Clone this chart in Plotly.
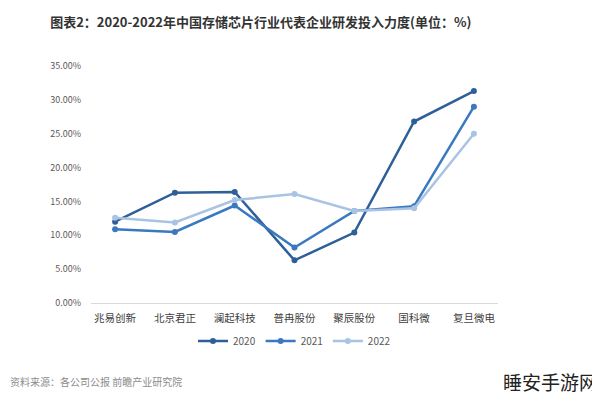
import plotly.graph_objects as go

categories = ["兆易创新", "北京君正", "澜起科技", "普冉股份", "聚辰股份", "国科微", "复旦微电"]
s2020 = [12.0, 16.3, 16.4, 6.3, 10.4, 26.8, 31.3]
s2021 = [10.9, 10.5, 14.4, 8.2, 13.6, 14.3, 29.0]
s2022 = [12.6, 11.9, 15.2, 16.1, 13.6, 14.0, 25.0]
years = ["2020", "2021", "2022"]
colors = ["#2F5F98", "#3A78C0", "#A9C3E3"]
y_ticks = [0, 5, 10, 15, 20, 25, 30, 35]

fig = go.Figure()
for name, vals, c in zip(years, [s2020, s2021, s2022], colors):
    fig.add_trace(go.Scatter(
        x=categories, y=vals, name=name, mode="lines+markers",
        line=dict(color=c, width=2.5), marker=dict(color=c, size=6),
    ))

fig.update_layout(
    width=592, height=394,
    margin=dict(l=83, r=102, t=58, b=99),
    paper_bgcolor="white", plot_bgcolor="white",
    font=dict(family="Noto Sans CJK SC", color="#595959", size=10),
    title=dict(text="<b>图表2：2020-2022年中国存储芯片行业代表企业研发投入力度(单位：%)</b>",
               x=0.427, xanchor="center", y=0.964, yanchor="middle",
               font=dict(size=13, color="#333333", family="Noto Sans CJK SC")),
    showlegend=True,
    legend=dict(orientation="h", x=0.5, xanchor="center", y=-0.16, yanchor="middle",
                font=dict(size=10, color="#595959"), itemwidth=30, tracegroupgap=0),
    xaxis=dict(showgrid=False, showline=True, linecolor="#D9D9D9", linewidth=1,
               ticks="", tickfont=dict(size=10.5, color="#404040"), ticklabelstandoff=5),
    yaxis=dict(range=[0, 35], tickvals=y_ticks,
               ticktext=[f"{v:.2f}%" for v in y_ticks],
               showgrid=False, zeroline=False, showline=False, ticks="",
               tickfont=dict(size=9, color="#595959"), ticklabelstandoff=9),
)

fig.add_annotation(text="资料来源：各公司公报 前瞻产业研究院", xref="paper", yref="paper",
                   x=-0.204, y=-0.333, xanchor="left", yanchor="middle", showarrow=False,
                   font=dict(size=10, color="#8C8C8C"))
fig.add_annotation(text="睡安手游网", xref="paper", yref="paper",
                   x=1.25, y=-0.333, xanchor="right", yanchor="middle", showarrow=False,
                   font=dict(size=19, color="#222222"))

fig.write_html("out.html")
